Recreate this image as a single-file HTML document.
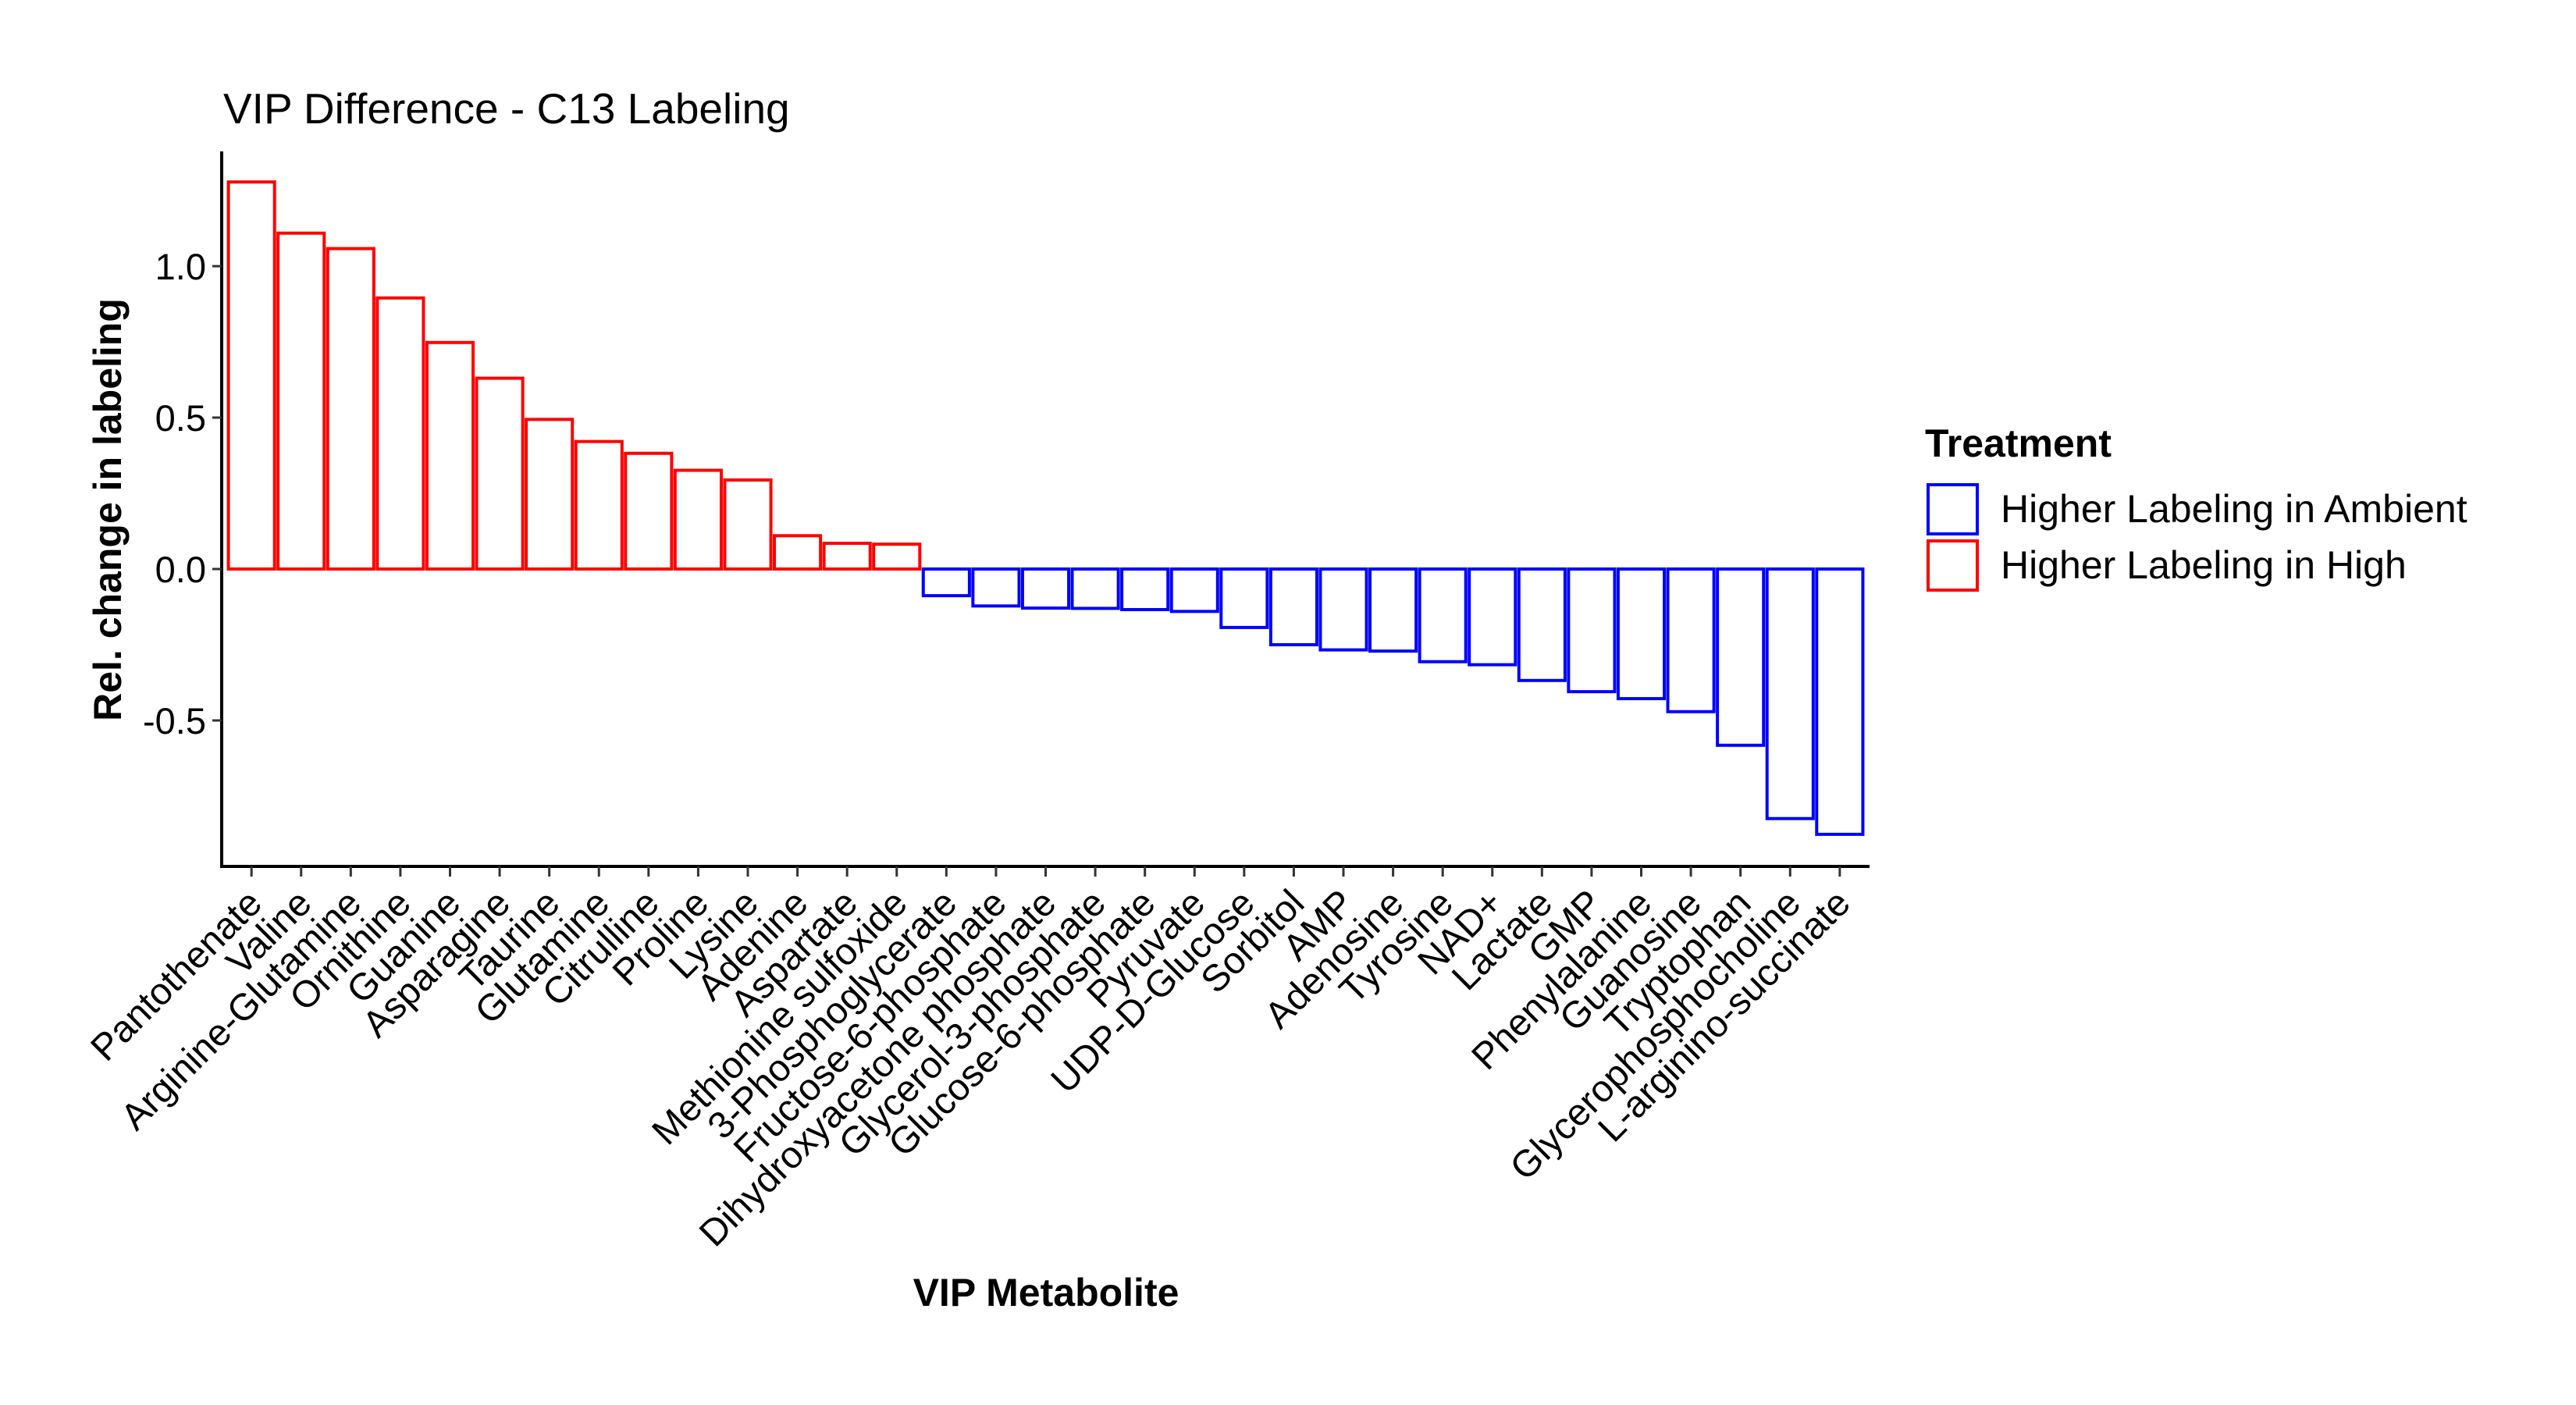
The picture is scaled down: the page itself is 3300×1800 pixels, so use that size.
<!DOCTYPE html>
<html><head><meta charset="utf-8"><style>
html,body{margin:0;padding:0;background:#fff;}
svg{display:block;font-family:"Liberation Sans",Arial,sans-serif;}
</style></head><body>
<svg id="chart" width="3300" height="1800" viewBox="0 0 3300 1800">
<rect width="3300" height="1800" fill="#fff"/>
<text x="286" y="158" font-size="55" fill="#000">VIP Difference - C13 Labeling</text>
<g id="plot"></g>
<text transform="translate(155,653) rotate(-90)" text-anchor="middle" font-size="50" font-weight="bold">Rel. change in labeling</text>
<text x="1340" y="1673" text-anchor="middle" font-size="50" font-weight="bold">VIP Metabolite</text>
<g>
<text x="2466" y="585" font-size="50" font-weight="bold">Treatment</text>
<rect x="2470" y="621" width="63" height="63" fill="#fff" stroke="#0000ff" stroke-width="4"/>
<text x="2563" y="669" font-size="50">Higher Labeling in Ambient</text>
<rect x="2470" y="693" width="63" height="63" fill="#fff" stroke="#ff0000" stroke-width="4"/>
<text x="2563" y="741" font-size="50">Higher Labeling in High</text>
</g>
</svg>
<script>
const categories=["Pantothenate","Valine","Arginine-Glutamine","Ornithine","Guanine","Asparagine","Taurine","Glutamine","Citrulline","Proline","Lysine","Adenine","Aspartate","Methionine sulfoxide","3-Phosphoglycerate","Fructose-6-phosphate","Dihydroxyacetone phosphate","Glycerol-3-phosphate","Glucose-6-phosphate","Pyruvate","UDP-D-Glucose","Sorbitol","AMP","Adenosine","Tyrosine","NAD+","Lactate","GMP","Phenylalanine","Guanosine","Tryptophan","Glycerophosphocholine","L-arginino-succinate"];
const values=[1.278,1.109,1.058,0.895,0.748,0.630,0.494,0.421,0.382,0.326,0.294,0.110,0.085,0.082,-0.088,-0.122,-0.129,-0.130,-0.134,-0.140,-0.193,-0.250,-0.267,-0.271,-0.306,-0.316,-0.368,-0.405,-0.428,-0.471,-0.582,-0.824,-0.876];
const yTicks=[-0.5,0,0.5,1.0];
const yTickLabels=["-0.5","0.0","0.5","1.0"];

const NS="http://www.w3.org/2000/svg";
const plot=document.getElementById('plot');
const x0=284,x1=2395,yTop=194,yBot=1110;
const zeroY=729,unit=388;
const step=(x1-x0)/(categories.length-1+1.2);
function xs(i){return x0+step*(0.6+i);}
function ys(v){return zeroY-v*unit;}
const bw=step*0.93;
function mk(tag,attrs){const e=document.createElementNS(NS,tag);for(const k in attrs)e.setAttribute(k,attrs[k]);return e;}

values.forEach((v,i)=>{
  const top=Math.min(ys(v),ys(0)),h=Math.abs(ys(v)-ys(0));
  const r=mk('rect',{x:xs(i)-bw/2,y:top,width:bw,height:h,fill:'#fff',stroke:v>=0?'#ff0000':'#0000ff','stroke-width':4});
  
  
  plot.appendChild(r);
});
const ya=mk('line',{x1:x0,y1:yTop,x2:x0,y2:yBot+2,stroke:'#000','stroke-width':4});


plot.appendChild(ya);
const xa=mk('line',{x1:x0-2,y1:yBot,x2:x1,y2:yBot,stroke:'#000','stroke-width':4});


plot.appendChild(xa);
yTicks.forEach((t,i)=>{
  const l=mk('line',{x1:x0-12,y1:ys(t),x2:x0,y2:ys(t),stroke:'#333','stroke-width':3});
  
  
  plot.appendChild(l);
  const tx=mk('text',{x:x0-20,y:ys(t)+17,'text-anchor':'end','font-size':47,fill:'#000'});
  tx.textContent=yTickLabels[i];
  
  
  plot.appendChild(tx);
});
categories.forEach((c,i)=>{
  const l=mk('line',{x1:xs(i),y1:yBot,x2:xs(i),y2:yBot+13,stroke:'#333','stroke-width':3});
  
  
  plot.appendChild(l);
  const tx=mk('text',{transform:`translate(${xs(i)+16},${yBot+50}) rotate(-45)`,'text-anchor':'end','font-size':48,fill:'#000'});
  tx.textContent=c;
  
  
  plot.appendChild(tx);
});
</script>
</body></html>
